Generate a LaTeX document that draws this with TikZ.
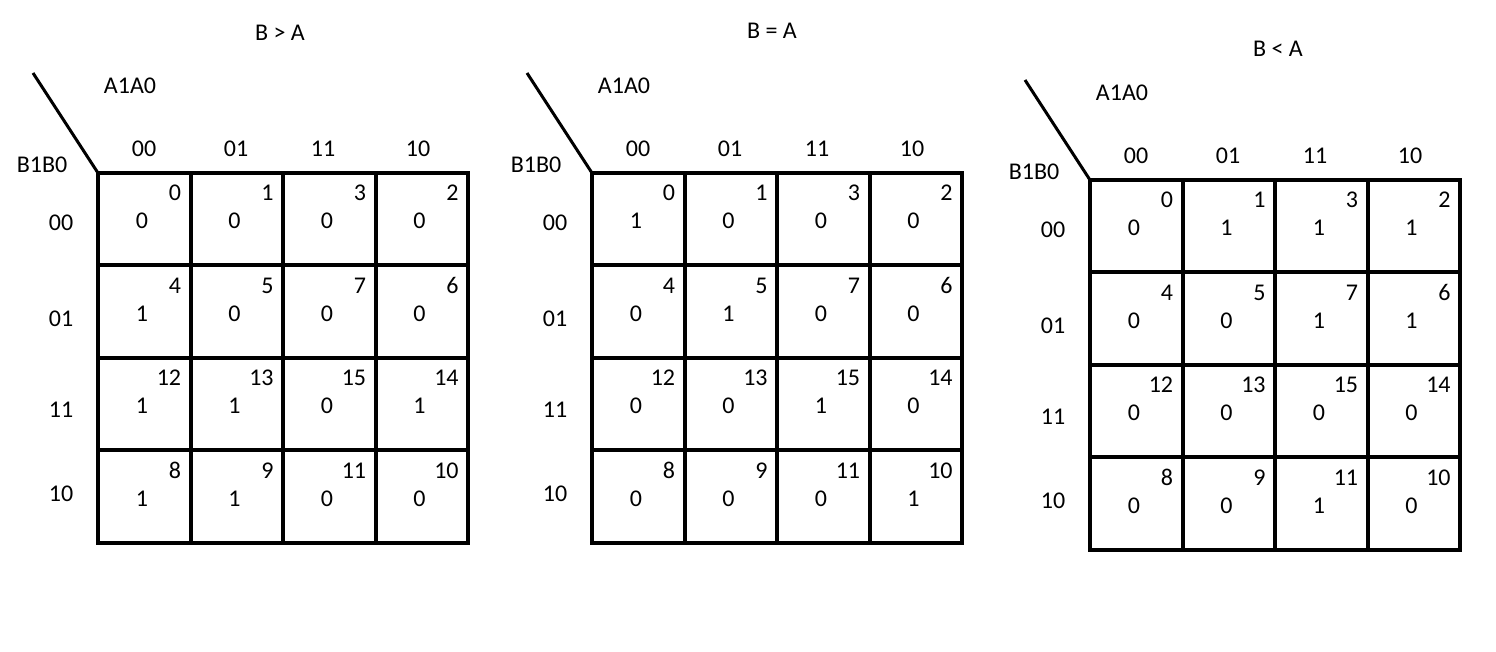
\documentclass[tikz,border=0pt]{standalone}
\usepackage{fontspec}
\setmainfont{Carlito}
\tikzset{
    kmap-cell/.style = {draw, line width=2pt, rectangle, minimum size=46.25pt, inner sep=0pt, outer sep=0pt},
    kmap-label/.style = {inner sep=0pt, font=\fontsize{12pt}{14pt}\selectfont},
    kmap-index/.style = {kmap-label, anchor=east},
    kmap-slash/.style = {line width=1.5pt},
}

\begin{document}
\begin{tikzpicture}[x=0.5pt, y=-0.5pt]
\useasboundingbox (0,0) rectangle (1496,652);
\foreach \ox/\oy/\tx/\ty/\ttl/\vals [count=\m] in {
    98/173/280/33/{B > A}/{0,0,0,0, 1,0,0,0, 1,1,0,1, 1,1,0,0},
    592/173/772/31/{B = A}/{1,0,0,0, 0,1,0,0, 0,0,1,0, 0,0,0,1},
    1090/180/1278/49/{B < A}/{0,1,1,1, 0,0,1,1, 0,0,0,0, 0,0,1,0}} {
  \node[kmap-label] (m\m-title) at (\tx,\ty) {\ttl};
  \node[kmap-label] (m\m-a) at (\ox+32,\oy-87) {A1A0};
  \node[kmap-label] (m\m-b) at (\ox-56,\oy-8) {B1B0};
  \foreach \lab/\hx [count=\c from 0] in {00/46,01/138,11/225,10/320}
    \node[kmap-label] (m\m-col\c) at (\ox+\hx,\oy-24) {\lab};
  \foreach \lab/\hy [count=\r from 0] in {00/50,01/146,11/237,10/321}
    \node[kmap-label] (m\m-row\r) at (\ox-37,\oy+\hy) {\lab};
  % cells: minterm number top right, value inside
  \foreach \v [count=\k from 0] in \vals {
    \pgfmathtruncatemacro{\r}{div(\k,4)}
    \pgfmathtruncatemacro{\c}{mod(\k,4)}
    \pgfmathtruncatemacro{\idx}{4*{0,1,3,2}[\r]+{0,1,3,2}[\c]}
    \node[kmap-cell, anchor=north west] (m\m-cell\k) at (\ox+92.5*\c,\oy+92.5*\r) {};
    \node[kmap-index] (m\m-idx\k) at ([xshift=-4.5pt,yshift=-10pt]m\m-cell\k.north east) {\idx};
    \node[kmap-label] (m\m-val\k) at ([xshift=22pt,yshift=-24pt]m\m-cell\k.north west) {\v};
  }
  \coordinate (m\m-tip) at (\ox-65,\oy-100);
  \draw[kmap-slash] (m\m-tip) -- (m\m-cell0.north west);
}
\end{tikzpicture}
\end{document}
